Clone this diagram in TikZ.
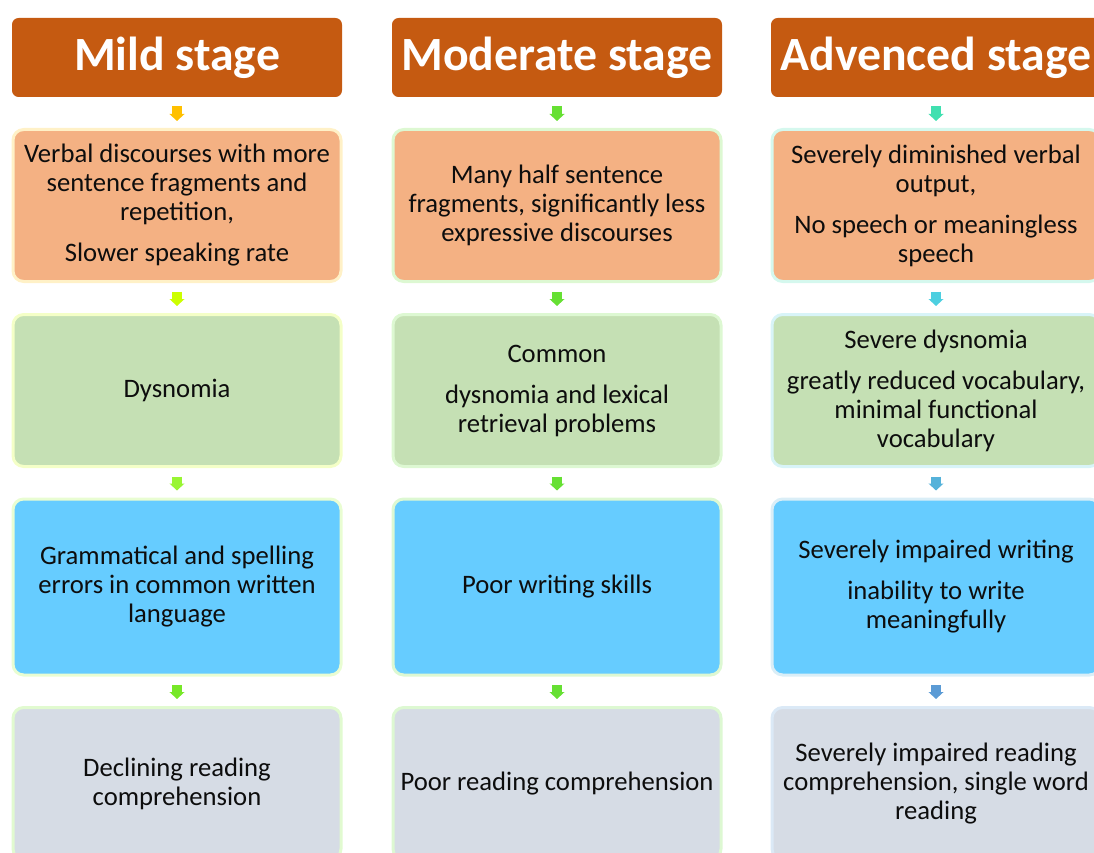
\documentclass[tikz,border=0pt]{standalone}
\usepackage{fontspec}
\setmainfont{Carlito}
\usetikzlibrary{arrows.meta}

\definecolor{headbrown}{HTML}{C55A11}
\definecolor{peach}{HTML}{F4B183}
\definecolor{sage}{HTML}{C5E0B4}
\definecolor{sky}{HTML}{66CCFF}
\definecolor{mist}{HTML}{D6DCE5}
\definecolor{textgrey}{HTML}{0D0D0D}
% arrow colours, column by column
\definecolor{mildA}{HTML}{FFC000}
\definecolor{mildB}{HTML}{CCFF00}
\definecolor{mildC}{HTML}{99F533}
\definecolor{mildD}{HTML}{77E828}
\definecolor{modA}{HTML}{66E033}
\definecolor{advA}{HTML}{40E0B0}
\definecolor{advB}{HTML}{4DCFE0}
\definecolor{advC}{HTML}{55B2DA}
\definecolor{advD}{HTML}{5B9BD5}

\tikzset{
  stagehead/.style={fill=headbrown, rounded corners=5pt, minimum width=247.5pt,
    minimum height=59.25pt, text=white, font=\fontsize{35.8}{40}\selectfont\bfseries},
  infobox/.style={fill=#1, rounded corners=8pt, minimum width=246pt,
    minimum height=114pt, align=center, text=textgrey, line width=2.25pt,
    font=\fontsize{20}{21.75}\selectfont},
  tallbox/.style={infobox=#1, minimum height=132pt},
  blockarrow/.style={draw=#1, line width=7.5pt,
    -{Triangle[width=11pt,length=5.25pt]},
    shorten <=6.5pt, shorten >=5.25pt}
}

\begin{document}
\begin{tikzpicture}[x=0.75pt,y=-0.75pt]

   \useasboundingbox (0,0) rectangle (1094,852);
   \clip (0,0) rectangle (1094,852);

   % headers
   \node[stagehead] (mildhead) at (177,57.5) {Mild stage};
   \node[stagehead] (modhead) at (557,57.5) {Moderate stage};
   \node[stagehead] (advhead) at (936,57.5) {Advenced stage};

   % mild column
   \node[infobox=peach, draw=mildA!22] (mild1) at (177,205.5)
     {Verbal discourses with more\\sentence fragments and\\repetition,\\[9pt]Slower speaking rate};
   \node[infobox=sage, draw=mildB!22] (mild2) at (177,390.5) {Dysnomia};
   \node[tallbox=sky, draw=mildC!22] (mild3) at (177,587)
     {Grammatical and spelling\\errors in common written\\language};
   \node[infobox=mist, draw=mildD!22] (mild4) at (177,783.5)
     {Declining reading\\comprehension};

   % moderate column
   \node[infobox=peach, draw=modA!22] (mod1) at (557,205.5)
     {Many half sentence\\fragments, significantly less\\expressive discourses};
   \node[infobox=sage, draw=modA!22] (mod2) at (557,390.5)
     {Common\\[9pt]dysnomia and lexical\\retrieval problems};
   \node[tallbox=sky, draw=modA!22] (mod3) at (557,587) {Poor writing skills};
   \node[infobox=mist, draw=modA!22] (mod4) at (557,783.5)
     {Poor reading comprehension};

   % advanced column
   \node[infobox=peach, draw=advA!22] (adv1) at (936,205.5)
     {Severely diminished verbal\\output,\\[9pt]No speech or meaningless\\speech};
   \node[infobox=sage, draw=advB!22] (adv2) at (936,390.5)
     {Severe dysnomia\\[9pt]greatly reduced vocabulary,\\minimal functional\\vocabulary};
   \node[tallbox=sky, draw=advC!22] (adv3) at (936,587)
     {Severely impaired writing\\[9pt]inability to write\\meaningfully};
   \node[infobox=mist, draw=advD!22] (adv4) at (936,783.5)
     {Severely impaired reading\\comprehension, single word\\reading};

   % small arrows
   \draw[blockarrow=mildA] (mildhead.south) -- (mild1.north);
   \draw[blockarrow=mildB] (mild1.south) -- (mild2.north);
   \draw[blockarrow=mildC] (mild2.south) -- (mild3.north);
   \draw[blockarrow=mildD] (mild3.south) -- (mild4.north);

   \draw[blockarrow=modA] (modhead.south) -- (mod1.north);
   \draw[blockarrow=modA] (mod1.south) -- (mod2.north);
   \draw[blockarrow=modA] (mod2.south) -- (mod3.north);
   \draw[blockarrow=modA] (mod3.south) -- (mod4.north);

   \draw[blockarrow=advA] (advhead.south) -- (adv1.north);
   \draw[blockarrow=advB] (adv1.south) -- (adv2.north);
   \draw[blockarrow=advC] (adv2.south) -- (adv3.north);
   \draw[blockarrow=advD] (adv3.south) -- (adv4.north);

\end{tikzpicture}
\end{document}
